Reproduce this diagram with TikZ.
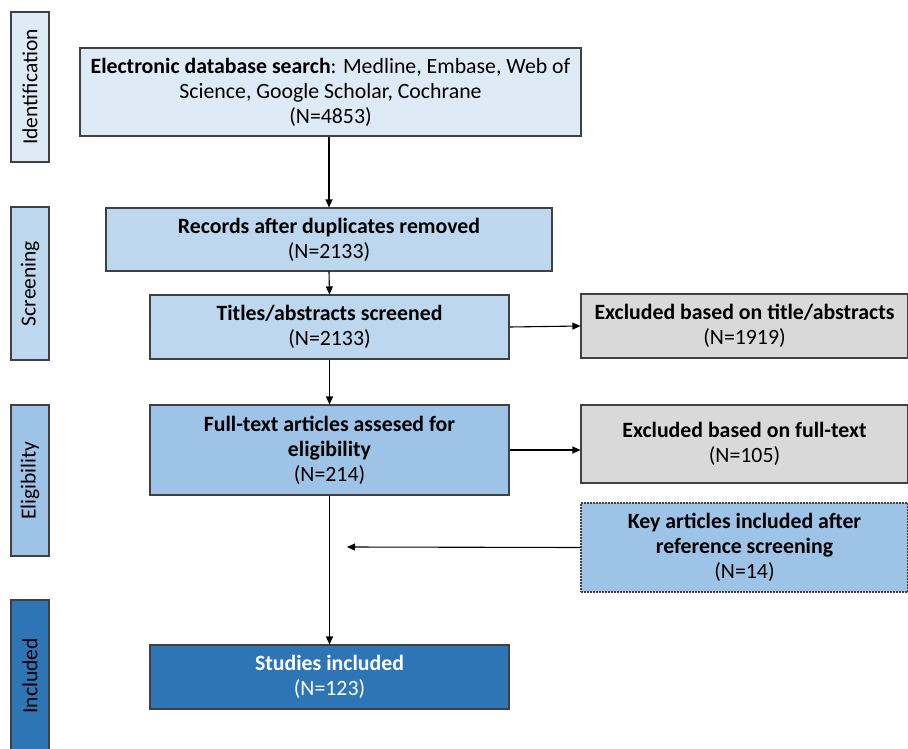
\documentclass[tikz,border=0pt]{standalone}
\usepackage{fontspec}
\setmainfont{Carlito}
\usetikzlibrary{arrows.meta}
\definecolor{lineC}{HTML}{404040}
\definecolor{phaseA}{HTML}{DEEBF7}
\definecolor{phaseB}{HTML}{BDD7EE}
\definecolor{phaseC}{HTML}{9DC3E6}
\definecolor{phaseD}{HTML}{2E75B6}
\definecolor{greyC}{HTML}{D9D9D9}
\tikzset{
  box/.style={draw=lineC, line width=1.1pt, align=center, inner sep=2pt,
    font=\fontsize{21.8}{25}\selectfont, text=black},
  phase/.style={draw=lineC, line width=1.1pt, minimum width=38pt,
    rotate=90, font=\fontsize{21.5}{23}\selectfont, inner sep=0pt},
  arr/.style={draw=black, line width=1.1pt, -{Triangle[length=8pt,width=7pt]}},
}
\begin{document}
\begin{tikzpicture}[x=1pt,y=-1pt]
\useasboundingbox (0,0) rectangle (908,749);
% phase labels (rotated: minimum height is along x after rotation)
\node[phase, fill=phaseA, minimum width=150pt, minimum height=38pt] (ident) at (30,87) {Identification};
\node[phase, fill=phaseB, minimum width=153pt, minimum height=38pt] (scr) at (30,283.5) {Screening};
\node[phase, fill=phaseC, minimum width=151pt, minimum height=38pt] (elig) at (30,480.5) {Eligibility};
\node[phase, fill=phaseD, minimum width=152pt, minimum height=38pt] (incl) at (30,676) {Included};
% main boxes
\node[box, fill=phaseA, minimum width=501pt, minimum height=88pt] (elec) at (330.5,92)
  {\textbf{Electronic database search}: Medline, Embase, Web of\\Science, Google Scholar, Cochrane\\(N=4853)};
\node[box, fill=phaseB, minimum width=446pt, minimum height=63pt] (rec) at (329,239.5)
  {\textbf{Records after duplicates removed}\\(N=2133)};
\node[box, fill=phaseB, minimum width=359pt, minimum height=64pt] (tit) at (329.5,327)
  {\textbf{Titles/abstracts screened}\\(N=2133)};
\node[box, fill=phaseC, minimum width=359pt, minimum height=90pt] (full) at (329.5,450)
  {\textbf{Full-text articles assesed for}\\\textbf{eligibility}\\(N=214)};
\node[box, fill=phaseD, minimum width=359pt, minimum height=64pt, text=white] (stud) at (329.5,677)
  {\textbf{Studies included}\\(N=123)};
\node[box, fill=greyC, minimum width=327pt, minimum height=64pt] (exc1) at (744.5,326)
  {\textbf{Excluded based on title/abstracts}\\(N=1919)};
\node[box, fill=greyC, minimum width=327pt, minimum height=78pt] (exc2) at (744.5,444)
  {\textbf{Excluded based on full-text}\\(N=105)};
\node[box, fill=phaseC, dashed, dash pattern=on 2pt off 1pt, minimum width=327pt, minimum height=89pt] (key) at (744.5,547.5)
  {\textbf{Key articles included after}\\\textbf{reference screening}\\(N=14)};
\coordinate (keyend) at (347,547);
% connectors
\draw[arr] (elec.south -| rec.north) -- (rec.north);
\draw[arr] (rec.south) -- (tit.north);
\draw[arr] (tit.south) -- (full.north);
\draw[arr] (full.south) -- (stud.north);
\draw[arr] (tit.east) -- (exc1.west);
\draw[arr] (full.east) -- (full.east -| exc2.west);
\draw[arr] (key.west) -- (keyend);
\end{tikzpicture}
\end{document}
